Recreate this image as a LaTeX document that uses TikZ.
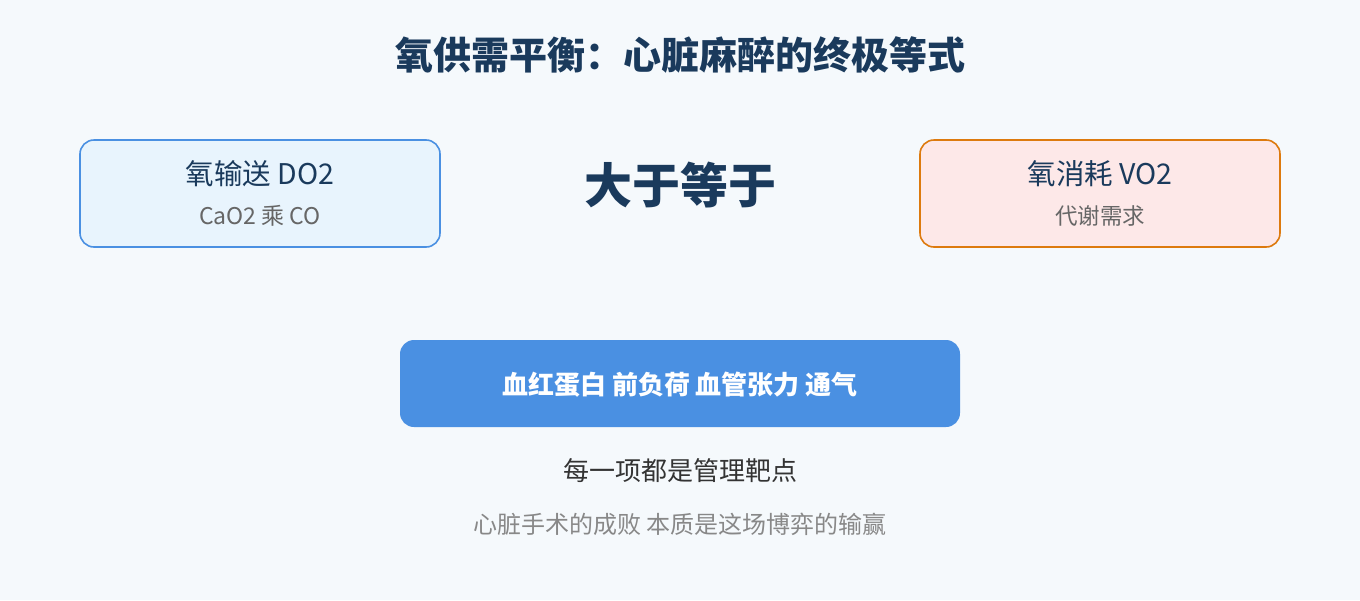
\documentclass[tikz,border=0pt]{standalone}
\usepackage{fontspec}
\setmainfont{Noto Sans CJK SC}
\definecolor{bg}{HTML}{F5F9FC}
\definecolor{navy}{HTML}{1A3A5C}
\definecolor{blue}{HTML}{4A90E2}
\definecolor{lblue}{HTML}{E8F4FD}
\definecolor{orng}{HTML}{DD7A0E}
\definecolor{lpink}{HTML}{FDE8E8}
\definecolor{gtxt}{HTML}{666666}
\definecolor{dtxt}{HTML}{333333}
\definecolor{ltxt}{HTML}{888888}
\begin{document}
\begin{tikzpicture}[x=1pt,y=-1pt,
  card/.style={rounded corners=14pt, line width=1.6pt, minimum width=360pt, minimum height=107pt},
]
\fill[bg] (0,0) rectangle (1360,600);
\useasboundingbox (0,0) rectangle (1360,600);
\node[font=\bfseries\fontsize{38}{38}\selectfont, text=navy] (title) at (680,55) {氧供需平衡：心脏麻醉的终极等式};
\node[card, draw=blue, fill=lblue] (left) at (260,193.5) {};
\node[card, draw=orng, fill=lpink] (right) at (1100,193.5) {};
\node[font=\fontsize{28.5}{28.5}\selectfont, text=navy] (lt) at (260,174) {氧输送 DO2};
\node[font=\fontsize{23}{23}\selectfont, text=gtxt] (ls) at (260,216) {CaO2 乘 CO};
\node[font=\fontsize{28.5}{28.5}\selectfont, text=navy] (rt) at (1100,174) {氧消耗 VO2};
\node[font=\fontsize{22.5}{22.5}\selectfont, text=gtxt] (rs) at (1100,216) {代谢需求};
\node[font=\bfseries\fontsize{48}{48}\selectfont, text=navy] (geq) at (680,185) {大于等于};
\node[rounded corners=14pt, fill=blue, minimum width=560pt, minimum height=87pt] (bar) at (680,383.5) {};
\node[font=\bfseries\fontsize{26}{26}\selectfont, text=white] (bart) at (680,385) {血红蛋白 前负荷 血管张力 通气};
\node[font=\fontsize{26}{26}\selectfont, text=dtxt] (t1) at (680,471) {每一项都是管理靶点};
\node[font=\fontsize{24}{24}\selectfont, text=ltxt] (t2) at (680,524) {心脏手术的成败 本质是这场博弈的输赢};
\end{tikzpicture}
\end{document}
